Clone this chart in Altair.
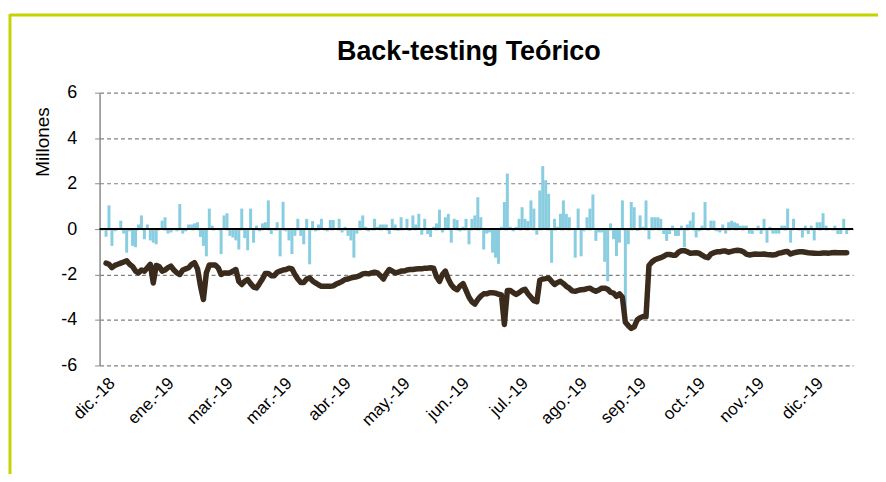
import altair as alt
import pandas as pd

FONT = "Liberation Sans"

tick_labels = ["dic.-18", "ene.-19", "mar.-19", "mar.-19", "abr.-19", "may.-19", "jun.-19",
               "jul.-19", "ago.-19", "sep.-19", "oct.-19", "nov.-19", "dic.-19"]
tick_index = [2, 22, 42, 62, 82, 102, 122, 142, 162, 182, 202, 222, 242]

# daily P&L (millones)
pnl = [
    -0.34, 1.04, -0.74, -0.1, 0.05, 0.37, -0.2, -1.04, -0.1, -0.74,
    -0.8, 0.2, 0.6, -0.45, 0.2, -0.5, -0.6, -0.67, 0.05, 0.37,
    0.52, -0.2, -0.15, 0.05, -0.1, 1.1, -0.2, -0.1, 0.2, 0.2,
    0.25, 0.3, -0.35, -0.74, -1.2, 0.9, 0.15, 0.0, -0.05, -1.1,
    0.6, 0.7, -0.3,
    -0.37, -0.5, -0.9, 0.9, -0.4, -0.93, 0.9, -0.6, 0.15, -0.1,
    0.25, 0.3, 1.26, -0.22, -0.05, 0.3, -1.2, 1.2, -0.1, -0.5,
    -1.1, -0.3, 0.45, -0.3, -0.67, 0.45, -1.55, 0.35, -0.1, 0.2,
    0.45, 0.05, -0.1, 0.4, 0.4, 0.05, 0.45, -0.15, 0.1, -0.3,
    -0.5, -1.26,
    -0.2, 0.37, 0.6, 0.1, -0.1, -0.05, 0.45, 0.1, 0.2, 0.2,
    0.2, -0.22, 0.45, 0.2, -0.08, 0.52, -0.05, 0.45, -0.08, 0.6,
    0.2, 0.67, -0.25, 0.45, -0.22, -0.35, 0.1, 0.25, 0.85, -0.15,
    0.52, 0.67, -0.6, 0.45, 0.4, -0.1, 0.1, 0.45, -0.67, 0.45,
    0.6, 1.4,
    0.52, -0.9, -0.2, -0.15, -1.04, -1.26, -1.53, 0.1, 1.19, 2.44,
    0.1, -0.1, 0.1, 0.45, 0.96, 0.45, 0.35, 1.26, 0.9, -0.25,
    1.7, 2.77, 2.15, 1.55, -1.48, 0.45, 0.1, 0.67, 1.26, 0.67,
    0.52, -0.05, -1.26, 0.9, -1.2, -0.1, 0.52, 0.9, 1.52, -0.52,
    -0.15, -0.15,
    -1.44, -2.3, 0.25, -0.45, -1.19, -0.6, 1.26, -3.78, -0.67, 1.19,
    0.96, -0.08, 0.6, 0.1, 1.26, -0.45, 0.52, 0.52, 0.52, 0.45,
    -0.22, -0.52, -0.22, 0.15, -0.3, -0.3, 0.15, -0.8, 0.2, 0.37,
    0.74, -0.37, -0.1, 0.15, 1.19, -0.05, 0.37, 0.37, -0.1, -0.15,
    0.2, -0.2,
    0.3, 0.37, 0.3, 0.25, 0.15, 0.15, 0.15, -0.2, -0.22, -0.05,
    0.15, -0.22, 0.45, -0.6, 0.1, -0.2, -0.2, -0.2, 0.15, 0.15,
    0.9, -0.6, 0.45, 0.05, -0.05, -0.37, 0.15, -0.22, 0.15, -0.5,
    0.3, 0.3, 0.7, 0.15, 0.05, -0.05, 0.15, -0.22, -0.22, 0.45,
    -0.22,
]

# VaR (millones)
var = [
    -1.5, -1.55, -1.7, -1.6, -1.55, -1.5, -1.45, -1.4, -1.55, -1.65,
    -1.85, -1.93, -1.8, -1.85, -1.7, -1.55, -2.37, -1.6, -1.65, -1.85,
    -1.8, -1.7, -1.63, -1.8, -1.93, -2.0, -1.8, -1.75, -1.7, -1.55,
    -1.48, -1.75, -2.5, -3.1, -1.93, -1.58, -1.58, -1.58, -1.7, -2.0,
    -1.93, -1.93, -1.93,
    -1.85, -1.78, -2.3, -2.44, -2.3, -2.22, -2.4, -2.55, -2.59, -2.4,
    -2.2, -1.95, -1.95, -2.05, -2.05, -1.9, -1.85, -1.8, -1.78, -1.72,
    -1.75, -2.0, -2.2, -2.35, -2.35, -2.2, -2.15, -2.28, -2.37, -2.45,
    -2.52, -2.52, -2.52, -2.52, -2.5, -2.42, -2.37, -2.3, -2.22, -2.2,
    -2.15, -2.12,
    -2.1, -2.05, -1.97, -1.95, -1.97, -1.93, -1.9, -1.93, -2.05, -2.2,
    -1.95, -1.78, -1.85, -1.93, -1.9, -1.85, -1.85, -1.8, -1.78, -1.78,
    -1.76, -1.75, -1.75, -1.72, -1.72, -1.7, -1.72, -2.1, -2.3, -2.0,
    -1.85, -2.2, -2.45, -2.6, -2.67, -2.5, -2.4, -2.7, -3.0, -3.2,
    -3.3, -3.1,
    -2.95, -2.85, -2.85, -2.8, -2.8, -2.82, -2.87, -2.9, -4.2, -2.7,
    -2.7, -2.8, -2.88, -2.8, -2.7, -2.65, -2.85, -3.0, -3.15, -3.2,
    -2.25, -2.2, -2.18, -2.15, -2.3, -2.44, -2.35, -2.3, -2.4, -2.52,
    -2.6, -2.72, -2.74, -2.7, -2.67, -2.66, -2.62, -2.6, -2.68, -2.74,
    -2.68, -2.6,
    -2.6, -2.65, -2.78, -2.82, -2.96, -2.85, -3.0, -4.1, -4.25, -4.37,
    -4.3, -4.0, -3.9, -3.85, -3.85, -1.6, -1.45, -1.35, -1.3, -1.26,
    -1.2, -1.12, -1.12, -1.15, -1.15, -1.02, -0.95, -0.95, -1.0, -1.06,
    -1.05, -1.04, -1.06, -1.15, -1.22, -1.26, -1.1, -1.04, -1.0, -1.0,
    -0.97, -0.97,
    -1.02, -0.98, -0.95, -0.93, -0.95, -1.0, -1.1, -1.14, -1.12, -1.1,
    -1.11, -1.11, -1.1, -1.12, -1.13, -1.14, -1.12, -1.06, -1.04, -1.0,
    -0.99, -1.1, -1.05, -1.02, -1.0, -1.0, -1.02, -1.04, -1.05, -1.06,
    -1.07, -1.07, -1.05, -1.05, -1.06, -1.04, -1.03, -1.04, -1.04, -1.04,
    -1.04,
]

y_ticks = [-6, -4, -2, 0, 2, 4, 6]

df = pd.DataFrame({"dia": list(range(len(pnl))), "pnl": pnl, "var": var})

W, H = 757, 274
xscale = alt.Scale(domain=[-0.5, len(pnl) - 0.5], nice=False, zero=False)
yscale = alt.Scale(domain=[-6, 6], nice=False)

label_expr = ("[" + ",".join("'" + s + "'" for s in tick_labels) + "][indexof("
              + str(tick_index) + ", datum.value)]")

base = alt.Chart(df)

bars = base.mark_bar(size=3.0, color="#89CDE0").encode(
    x=alt.X("dia:Q", scale=xscale,
            axis=alt.Axis(values=tick_index, labelExpr=label_expr, labelAngle=315,
                          labelAlign="right", labelBaseline="middle", labelPadding=15,
                          domain=False, ticks=False, grid=False, title=None,
                          labelFont=FONT, labelFontSize=17, labelColor="black")),
    y=alt.Y("pnl:Q", scale=yscale,
            axis=alt.Axis(values=y_ticks, labelExpr="'' + datum.value",
                          grid=True, gridDash=[4, 3], gridColor="#808080",
                          gridWidth=1.2, domainColor="#8a8a8a", domainWidth=1.5,
                          tickColor="#8a8a8a", tickSize=5, labelFontSize=18,
                          labelFont=FONT, labelColor="black", labelPadding=18,
                          title="Millones", titleFont=FONT, titleFontSize=19,
                          titleFontWeight="normal", titleColor="black", titleAngle=270,
                          titleX=-57, titleY=49, titleAlign="center",
                          titleBaseline="middle")),
)

zero = alt.Chart(pd.DataFrame({"y": [0]})).mark_rule(color="black", strokeWidth=2).encode(
    y=alt.Y("y:Q", scale=yscale)
)

line = base.mark_line(color="#3A2B1D", strokeWidth=5.5, strokeJoin="round",
                      strokeCap="round").encode(
    x=alt.X("dia:Q", scale=xscale),
    y=alt.Y("var:Q", scale=yscale),
)

title = alt.Chart(pd.DataFrame({"t": ["Back-testing Teórico"]})).mark_text(
    font=FONT, fontSize=27, fontWeight="bold", align="center", baseline="middle",
    color="black"
).encode(x=alt.value(371), y=alt.value(-41), text="t:N")

frame_top = alt.Chart(pd.DataFrame({"a": [0]})).mark_rule(
    color="#C5D400", strokeWidth=3).encode(
    x=alt.value(-90), x2=alt.value(790), y=alt.value(-78))
frame_left = alt.Chart(pd.DataFrame({"a": [0]})).mark_rule(
    color="#C5D400", strokeWidth=3).encode(
    x=alt.value(-90), y=alt.value(-79), y2=alt.value(H + 110))

chart = alt.layer(frame_top, frame_left, title, bars, zero, line).properties(
    width=W, height=H,
    padding={"left": 92, "top": 84, "right": 25, "bottom": 108},
    autosize=alt.AutoSizeParams(type="none"),
).configure_view(strokeWidth=0)

chart.save("out.html", embed_options={"renderer": "svg", "actions": False})
